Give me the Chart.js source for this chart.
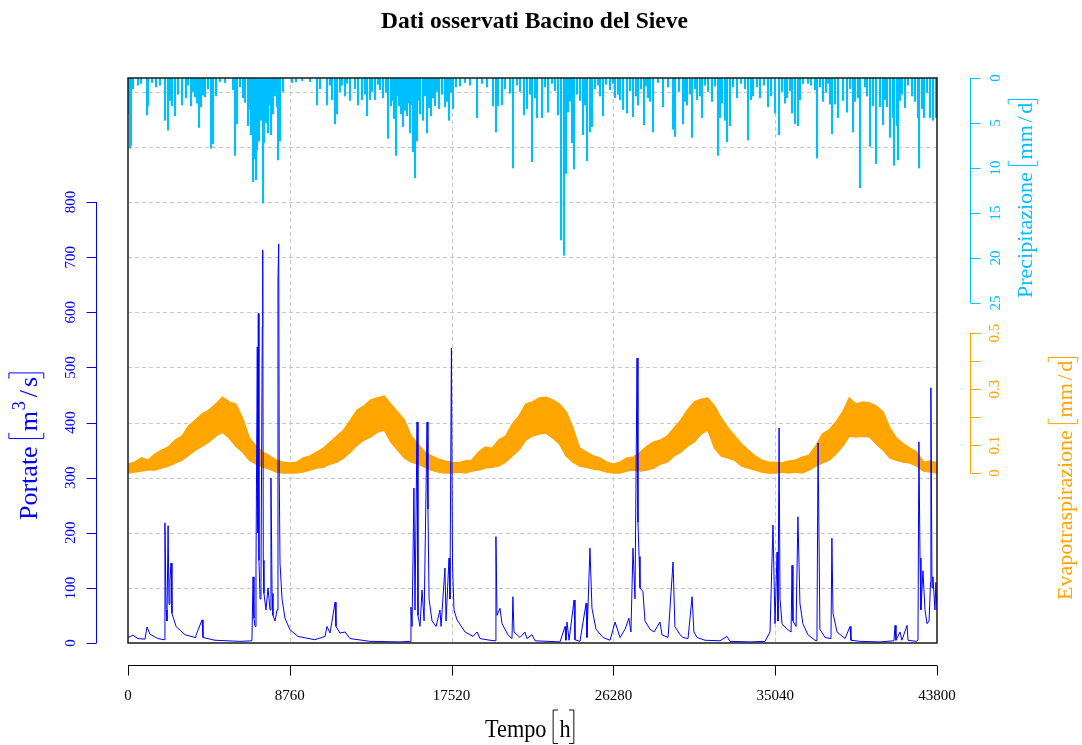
<!DOCTYPE html>
<html>
<head>
<meta charset="utf-8">
<script src="https://cdn.jsdelivr.net/npm/chart.js@4.4.1/dist/chart.umd.min.js"></script>
<style>
  body { margin: 0; background: #fff; }
  canvas { display: block; }
</style>
</head>
<body>
<canvas id="grafico" width="1082" height="745"></canvas>
<script>
// ore di tick sull'asse dei tempi (un anno = 8760 h)
const tickTempo = [0, 8760, 17520, 26280, 35040, 43800];
const tickPortate = [0, 100, 200, 300, 400, 500, 600, 700, 800];
const grigliaPortate = [100, 200, 300, 400, 500, 600, 700, 800, 900, 1000];
const tickPioggia = [0, 5, 10, 15, 20, 25];
const tickEvap = [0, 0.1, 0.2, 0.3, 0.4, 0.5];
const etichetteEvap = ['0', '0.1', '', '0.3', '', '0.5'];

// portate [ora, m3/s]
const portate = [
  [0,10],[270,14],[540,8],[920,7],[1030,29],[1190,16],[1620,8],[1950,6],[2000,218],[2060,60],[2110,40],[2170,213],
  [2220,70],[2270,114],[2330,145],[2380,54],[2600,30],[3090,15],[3630,10],[3680,14],[4010,42],[4060,10],[4710,5],
  [6060,3],[6710,4],[6770,120],[6820,45],[6880,30],[6930,140],[7000,537],[7030,200],[7055,598],[7090,150],[7150,80],
  [7200,110],[7270,573],[7295,713],[7325,150],[7360,90],[7470,60],[7580,100],[7690,60],[7740,299],[7800,90],[7850,50],
  [7960,40],[8070,60],[8120,658],[8160,724],[8190,300],[8230,145],[8340,80],[8500,45],[8770,24],[9200,12],[9640,9],
  [10120,6],[10670,12],[10770,30],[10940,18],[11210,74],[11260,30],[11480,18],[11750,20],[12020,8],[13100,3],[14730,2],
  [15270,3],[15320,65],[15380,30],[15480,281],[15540,60],[15650,401],[15700,50],[15810,30],[15920,96],[16030,40],
  [16190,401],[16240,243],[16300,80],[16460,40],[16680,30],[16890,60],[16950,30],[17160,136],[17220,40],[17380,154],
  [17430,80],[17510,535],[17570,140],[17650,60],[17810,42],[18250,20],[18680,12],[18900,20],[19060,8],[19600,5],
  [19870,4],[19920,193],[19980,50],[20140,63],[20250,35],[20570,15],[20790,8],[20840,84],[20900,20],[21220,10],
  [21490,20],[21600,8],[21870,15],[22040,4],[23390,2],[23660,30],[23710,5],[23770,38],[23880,5],[24150,78],[24200,6],
  [24470,3],[24800,72],[24850,10],[25010,172],[25120,63],[25340,25],[25720,10],[26100,5],[26370,38],[26640,10],
  [26910,25],[27120,45],[27230,20],[27340,172],[27450,80],[27560,517],[27610,219],[27670,157],[27720,100],[27880,93],
  [27990,40],[28260,25],[28480,20],[28800,38],[28910,15],[29240,10],[29510,147],[29610,30],[29890,15],[30050,10],
  [30320,8],[30540,84],[30640,20],[30810,10],[31240,5],[32050,4],[32430,12],[32590,3],[33680,2],[34490,3],[34760,20],
  [34920,214],[35030,35],[35140,165],[35190,40],[35250,390],[35300,80],[35410,35],[35680,25],[35900,20],[35950,141],
  [36000,40],[36170,30],[36270,229],[36380,72],[36540,35],[36810,15],[37190,5],[37300,4],[37360,363],[37460,25],
  [37740,10],[38060,8],[38110,190],[38170,54],[38390,20],[38820,8],[39090,30],[39140,5],[39630,3],[40710,2],[41470,4],
  [41530,32],[41580,5],[41800,20],[41900,5],[42180,32],[42230,5],[42660,3],[42770,5],[42820,365],[42880,154],[42930,60],
  [43040,131],[43150,60],[43260,35],[43370,40],[43450,110],[43470,463],[43530,100],[43580,120],[43690,60],[43740,110],
  [43800,60]
];

// precipitazione [ora, mm/d]
const pioggia = [
  [54,4.0],[108,7.8],[162,7.5],[271,1.2],[541,0.8],[704,0.6],[1029,4.1],[1083,3.1],[1299,0.5],[1516,1.0],[1732,0.8],
  [2003,4.7],[2166,5.8],[2274,2.5],[2382,3.1],[2545,4.2],[2707,1.8],[2924,3.0],[3140,2.2],[3248,0.8],[3411,3.1],
  [3519,1.5],[3627,2.1],[3736,2.8],[3844,5.5],[3952,3.2],[4060,1.9],[4169,2.1],[4331,1.2],[4494,7.8],[4602,7.3],
  [4764,2.0],[4981,0.4],[5252,0.5],[5685,1.3],[5793,8.6],[5901,5.1],[6064,1.0],[6226,2.2],[6334,2.7],[6497,5.3],
  [6605,3.5],[6659,6.3],[6768,11.5],[6822,9.0],[6930,11.3],[6984,8.0],[7038,2.8],[7092,7.0],[7200,4.7],[7255,3.5],
  [7309,13.9],[7363,7.2],[7471,5.0],[7525,2.5],[7580,6.1],[7688,3.0],[7742,6.3],[7850,4.0],[7959,2.0],[8067,3.2],
  [8121,9.1],[8229,7.0],[8392,1.5],[8879,0.5],[9096,0.4],[9420,0.3],[9853,0.4],[10232,3.0],[10395,1.2],[10774,3.0],
  [10936,0.8],[11045,2.4],[11207,5.1],[11315,4.0],[11478,1.5],[11586,0.8],[11749,2.0],[11857,0.6],[12019,2.5],
  [12290,1.2],[12452,3.0],[12669,2.4],[12831,1.8],[12939,4.2],[13102,2.4],[13210,1.5],[13373,2.4],[13535,0.7],
  [13643,1.3],[13806,2.2],[13968,1.6],[14076,6.7],[14239,3.1],[14293,2.5],[14401,4.5],[14510,8.6],[14618,2.0],
  [14672,3.1],[14780,4.0],[14889,5.4],[14997,3.6],[15105,4.2],[15159,2.8],[15268,6.1],[15376,3.0],[15430,8.2],
  [15538,11.1],[15647,7.0],[15701,2.5],[15809,4.0],[15971,4.7],[16080,2.0],[16188,6.1],[16296,3.3],[16404,4.2],
  [16513,2.2],[16621,3.1],[16729,1.5],[16838,3.4],[17000,1.8],[17163,3.2],[17271,2.6],[17379,4.7],[17487,1.6],
  [17596,3.4],[17758,1.0],[17975,0.9],[18245,0.5],[18516,0.8],[18895,4.4],[19166,0.6],[19436,1.0],[19761,3.1],
  [19924,6.0],[20032,3.1],[20249,3.0],[20411,1.2],[20681,1.7],[20844,10.0],[21060,0.8],[21223,1.5],[21439,4.1],
  [21602,3.4],[21765,1.8],[21873,9.3],[22035,2.2],[22143,4.4],[22414,4.4],[22576,1.0],[22739,3.8],[22955,0.6],
  [23118,1.4],[23280,4.1],[23443,18.0],[23605,19.7],[23713,10.6],[23822,3.8],[23930,2.6],[24038,7.2],[24146,10.1],
  [24309,1.8],[24471,2.5],[24634,6.3],[24742,3.0],[24850,9.2],[25012,6.0],[25121,5.4],[25283,1.2],[25446,0.8],
  [25554,2.0],[25717,4.2],[25879,0.7],[26095,1.3],[26258,0.6],[26366,2.2],[26529,1.8],[26637,2.4],[26799,3.5],
  [27016,3.9],[27178,1.4],[27340,4.3],[27503,2.0],[27611,3.0],[27774,1.2],[27936,5.2],[28045,0.9],[28153,2.2],
  [28261,2.6],[28424,6.0],[28694,0.5],[28965,3.2],[29236,1.0],[29506,5.7],[29615,6.5],[29831,1.5],[30048,5.1],
  [30156,2.6],[30264,3.0],[30427,1.8],[30535,6.6],[30697,1.2],[30806,2.4],[30968,2.0],[31076,4.4],[31239,0.8],
  [31401,1.5],[31618,2.6],[31780,0.9],[31943,8.6],[32051,4.4],[32159,2.8],[32322,4.7],[32430,7.1],[32592,5.3],
  [32755,1.0],[32971,2.2],[33188,0.6],[33404,1.2],[33567,6.9],[33729,2.4],[33838,2.0],[34054,1.0],[34216,2.2],
  [34433,0.8],[34650,3.2],[34812,2.0],[35029,3.9],[35245,6.3],[35408,1.5],[35570,2.8],[35678,2.2],[35841,1.4],
  [35949,3.9],[36111,5.1],[36274,5.3],[36382,2.4],[36545,0.6],[36815,0.6],[36977,0.8],[37194,1.3],[37302,8.9],
  [37464,1.0],[37627,2.6],[37789,1.6],[37898,0.6],[38006,2.9],[38115,6.2],[38277,2.9],[38439,4.4],[38710,2.5],
  [38927,3.8],[39089,1.2],[39252,6.0],[39360,2.6],[39522,2.2],[39630,12.2],[39901,1.0],[40009,2.0],[40172,7.6],
  [40334,3.1],[40497,9.5],[40713,3.2],[40876,5.2],[40984,2.4],[41092,3.2],[41255,6.6],[41417,4.4],[41471,9.7],
  [41634,5.3],[41688,9.1],[41796,2.5],[41904,1.8],[42067,3.3],[42229,0.8],[42446,2.0],[42608,2.6],[42771,4.4],
  [42825,10.0],[42988,3.4],[43095,4.4],[43257,1.6],[43420,4.4],[43582,4.7],[43745,4.4]
];

// evapotraspirazione [mm/d]: limite superiore e inferiore della banda, un valore ogni 365 h
const evapSup = [
  0.032,0.039,0.054,0.046,0.068,0.082,0.093,0.118,0.132,0.168,0.189,0.211,0.225,0.246,0.271,0.254,0.246,0.196,0.125,0.096,0.075,0.061,0.046,0.039,
  0.036,0.039,0.054,0.061,0.075,0.089,0.111,0.132,0.154,0.189,0.225,0.239,0.261,0.268,0.275,0.246,0.218,0.189,0.132,0.104,0.075,0.061,0.050,0.043,
  0.039,0.036,0.043,0.046,0.075,0.093,0.089,0.118,0.132,0.175,0.204,0.246,0.254,0.268,0.271,0.261,0.246,0.218,0.161,0.089,0.075,0.061,0.054,0.039,
  0.032,0.039,0.054,0.057,0.075,0.096,0.111,0.118,0.132,0.161,0.189,0.225,0.254,0.264,0.268,0.239,0.196,0.161,0.132,0.104,0.082,0.061,0.046,0.039,
  0.039,0.036,0.043,0.046,0.057,0.064,0.096,0.139,0.154,0.182,0.218,0.268,0.246,0.254,0.250,0.239,0.218,0.161,0.125,0.104,0.089,0.075,0.039,0.043,
  0.036
];
const evapInf = [
  0.000,0.004,0.007,0.011,0.011,0.018,0.025,0.036,0.046,0.064,0.082,0.096,0.111,0.132,0.146,0.125,0.096,0.075,0.046,0.032,0.021,0.014,0.004,0.000,
  0.000,0.000,0.004,0.011,0.018,0.021,0.032,0.039,0.054,0.075,0.100,0.118,0.129,0.146,0.154,0.111,0.082,0.054,0.039,0.032,0.021,0.011,0.004,0.000,
  0.000,0.004,0.000,0.007,0.011,0.018,0.021,0.025,0.039,0.061,0.082,0.118,0.132,0.139,0.143,0.125,0.104,0.061,0.039,0.025,0.021,0.014,0.011,0.004,
  0.000,0.000,0.007,0.011,0.007,0.011,0.018,0.032,0.039,0.061,0.075,0.096,0.111,0.139,0.154,0.089,0.061,0.054,0.046,0.025,0.018,0.011,0.004,0.000,
  0.000,0.004,0.000,0.004,0.000,0.011,0.025,0.036,0.046,0.068,0.096,0.132,0.129,0.132,0.129,0.104,0.082,0.054,0.046,0.039,0.036,0.025,0.007,0.004,
  0.000
];
const oreEvap = evapSup.map((_, i) => i * 365);

const BLU = '#0000ff', AZZURRO = '#00bfff', ARANCIO = '#ffa500';
const SERIF = '"Liberation Serif", "Times New Roman", serif';

// testo con unita' tra parentesi quadre, come le etichette di R (plotmath)
function titoloUnita(ctx, x, y, ruota, size, colore, testo, unita, sx) {
  ctx.save();
  ctx.translate(x, y);
  if (ruota) ctx.rotate(-Math.PI / 2);
  if (sx) ctx.scale(sx, 1);
  ctx.fillStyle = colore;
  ctx.strokeStyle = colore;
  ctx.lineWidth = 1;
  ctx.textAlign = 'left';
  ctx.textBaseline = 'alphabetic';
  ctx.font = size + 'px ' + SERIF;
  ctx.fillText(testo, 0, 0);
  let p = ctx.measureText(testo).width + 0.3 * size;
  const alto = -1.08 * size, basso = 0.26 * size, s = 0.22 * size;
  ctx.beginPath();
  ctx.moveTo(p + s, alto); ctx.lineTo(p, alto); ctx.lineTo(p, basso); ctx.lineTo(p + s, basso);
  ctx.stroke();
  p += 0.28 * size;
  unita.forEach(u => {
    if (u.startsWith('^')) {
      ctx.font = (0.7 * size) + 'px ' + SERIF;
      ctx.fillText(u.slice(1), p + 0.03 * size, -0.45 * size);
      p += ctx.measureText(u.slice(1)).width + 0.06 * size;
      ctx.font = size + 'px ' + SERIF;
    } else if (u === '/') {
      p += 0.12 * size;
      ctx.fillText(u, p, 0);
      p += ctx.measureText(u).width + 0.12 * size;
    } else {
      ctx.fillText(u, p, 0);
      p += ctx.measureText(u).width;
    }
  });
  p += 0.15 * size;
  ctx.beginPath();
  ctx.moveTo(p - s, alto); ctx.lineTo(p, alto); ctx.lineTo(p, basso); ctx.lineTo(p - s, basso);
  ctx.stroke();
  ctx.restore();
}

function testoRuotato(ctx, txt, x, y) {
  ctx.save();
  ctx.translate(x, y);
  ctx.rotate(-Math.PI / 2);
  ctx.fillText(txt, 0, 0);
  ctx.restore();
}

const assiR = {
  id: 'assiR',
  beforeDatasetsDraw(chart) {
    const { ctx, chartArea: a, scales: { x, yQ } } = chart;
    ctx.save();
    ctx.strokeStyle = '#c8c8c8';
    ctx.lineWidth = 1;
    ctx.setLineDash([4, 3]);
    ctx.beginPath();
    grigliaPortate.forEach(v => {
      const y = Math.round(yQ.getPixelForValue(v)) + 0.5;
      ctx.moveTo(a.left, y); ctx.lineTo(a.right, y);
    });
    tickTempo.slice(1, -1).forEach(t => {
      const px = Math.round(x.getPixelForValue(t)) + 0.5;
      ctx.moveTo(px, a.top); ctx.lineTo(px, a.bottom);
    });
    ctx.stroke();
    ctx.restore();
  },
  afterDraw(chart) {
    const { ctx, chartArea: a, scales: { x, yQ, yP, yE } } = chart;
    ctx.save();

    // riquadro
    ctx.strokeStyle = '#1a1a1a';
    ctx.lineWidth = 1.5;
    ctx.strokeRect(a.left, a.top, a.right - a.left, a.bottom - a.top);

    // asse dei tempi
    const yAx = a.bottom + 22.5;
    ctx.strokeStyle = '#000';
    ctx.lineWidth = 1;
    ctx.beginPath();
    ctx.moveTo(x.getPixelForValue(tickTempo[0]), yAx);
    ctx.lineTo(x.getPixelForValue(tickTempo[tickTempo.length - 1]), yAx);
    tickTempo.forEach(t => {
      const px = Math.round(x.getPixelForValue(t)) + 0.5;
      ctx.moveTo(px, yAx); ctx.lineTo(px, yAx + 10);
    });
    ctx.stroke();
    ctx.fillStyle = '#000';
    ctx.font = '15px ' + SERIF;
    ctx.textAlign = 'center';
    ctx.textBaseline = 'alphabetic';
    tickTempo.forEach(t => ctx.fillText(String(t), x.getPixelForValue(t), 700));

    // asse portate (sinistra)
    const xQ = a.left - 31.5;
    ctx.strokeStyle = BLU;
    ctx.fillStyle = BLU;
    ctx.beginPath();
    ctx.moveTo(xQ, yQ.getPixelForValue(0));
    ctx.lineTo(xQ, yQ.getPixelForValue(800));
    tickPortate.forEach(v => {
      const py = Math.round(yQ.getPixelForValue(v)) + 0.5;
      ctx.moveTo(xQ, py); ctx.lineTo(xQ - 10, py);
    });
    ctx.stroke();
    tickPortate.forEach(v => testoRuotato(ctx, String(v), 75, yQ.getPixelForValue(v)));

    // asse precipitazione (destra, in alto)
    const xD = a.right + 33.5;
    ctx.strokeStyle = AZZURRO;
    ctx.fillStyle = AZZURRO;
    ctx.beginPath();
    ctx.moveTo(xD, yP.getPixelForValue(0));
    ctx.lineTo(xD, yP.getPixelForValue(25));
    tickPioggia.forEach(v => {
      const py = Math.round(yP.getPixelForValue(v)) + 0.5;
      ctx.moveTo(xD, py); ctx.lineTo(xD + 10, py);
    });
    ctx.stroke();
    tickPioggia.forEach(v => testoRuotato(ctx, String(v), 1000, yP.getPixelForValue(v)));

    // asse evapotraspirazione (destra, in basso)
    ctx.strokeStyle = ARANCIO;
    ctx.fillStyle = ARANCIO;
    ctx.beginPath();
    ctx.moveTo(xD, yE.getPixelForValue(0));
    ctx.lineTo(xD, yE.getPixelForValue(0.5));
    tickEvap.forEach(v => {
      const py = Math.round(yE.getPixelForValue(v)) + 0.5;
      ctx.moveTo(xD, py); ctx.lineTo(xD + 10, py);
    });
    ctx.stroke();
    tickEvap.forEach((v, i) => testoRuotato(ctx, etichetteEvap[i], 999, yE.getPixelForValue(v)));

    // titoli degli assi
    titoloUnita(ctx, 485, 737, false, 25, '#000', 'Tempo', ['h'], 0.89);
    titoloUnita(ctx, 37, 520, true, 26, BLU, 'Portate', ['m', '^3', '/', 's']);
    titoloUnita(ctx, 1032, 298, true, 22, AZZURRO, 'Precipitazione', ['mm', '/', 'd']);
    titoloUnita(ctx, 1072, 600, true, 22, ARANCIO, 'Evapotraspirazione', ['mm', '/', 'd']);

    // titolo principale
    const titolo = 'Dati osservati Bacino del Sieve';
    ctx.font = 'bold 24px ' + SERIF;
    ctx.fillStyle = '#000';
    ctx.textAlign = 'center';
    const w = ctx.measureText(titolo).width;
    ctx.translate(534.5, 28);
    ctx.scale(307 / w, 1);
    ctx.fillText(titolo, 0, 0);
    ctx.restore();
  }
};

Chart.defaults.font.family = SERIF;

new Chart(document.getElementById('grafico'), {
  type: 'line',
  data: {
    datasets: [
      {
        type: 'line',
        label: 'Portate',
        data: portate.map(([t, q]) => ({ x: t, y: q })),
        yAxisID: 'yQ',
        borderColor: BLU,
        borderWidth: 1,
        pointRadius: 0,
        tension: 0,
        order: 0
      },
      {
        type: 'line',
        label: 'Evapotraspirazione min',
        data: oreEvap.map((t, i) => ({ x: t, y: evapInf[i] })),
        yAxisID: 'yE',
        borderColor: ARANCIO,
        borderWidth: 1.5,
        pointRadius: 0,
        fill: false,
        order: 1
      },
      {
        type: 'line',
        label: 'Evapotraspirazione max',
        data: oreEvap.map((t, i) => ({ x: t, y: evapSup[i] })),
        yAxisID: 'yE',
        borderColor: ARANCIO,
        backgroundColor: ARANCIO,
        borderWidth: 1.5,
        pointRadius: 0,
        fill: '-1',
        order: 1
      },
      {
        type: 'bar',
        label: 'Precipitazione',
        data: pioggia.map(([t, p]) => ({ x: t, y: p })),
        yAxisID: 'yP',
        backgroundColor: AZZURRO,
        barThickness: 1.5,
        order: 2
      }
    ]
  },
  options: {
    responsive: false,
    animation: false,
    devicePixelRatio: 1,
    layout: { padding: { left: 128, right: 145, top: 78, bottom: 102 } },
    plugins: {
      legend: { display: false },
      tooltip: { enabled: false },
      title: { display: false }
    },
    scales: {
      x: { type: 'linear', min: 0, max: 43800, offset: false, display: false },
      yQ: { type: 'linear', min: 0, max: 1025, display: false },
      yP: { type: 'linear', min: 0, max: 62.78, reverse: true, display: false },
      yE: { type: 'linear', min: -0.607, max: 1.411, display: false }
    }
  },
  plugins: [assiR]
});
</script>
</body>
</html>
